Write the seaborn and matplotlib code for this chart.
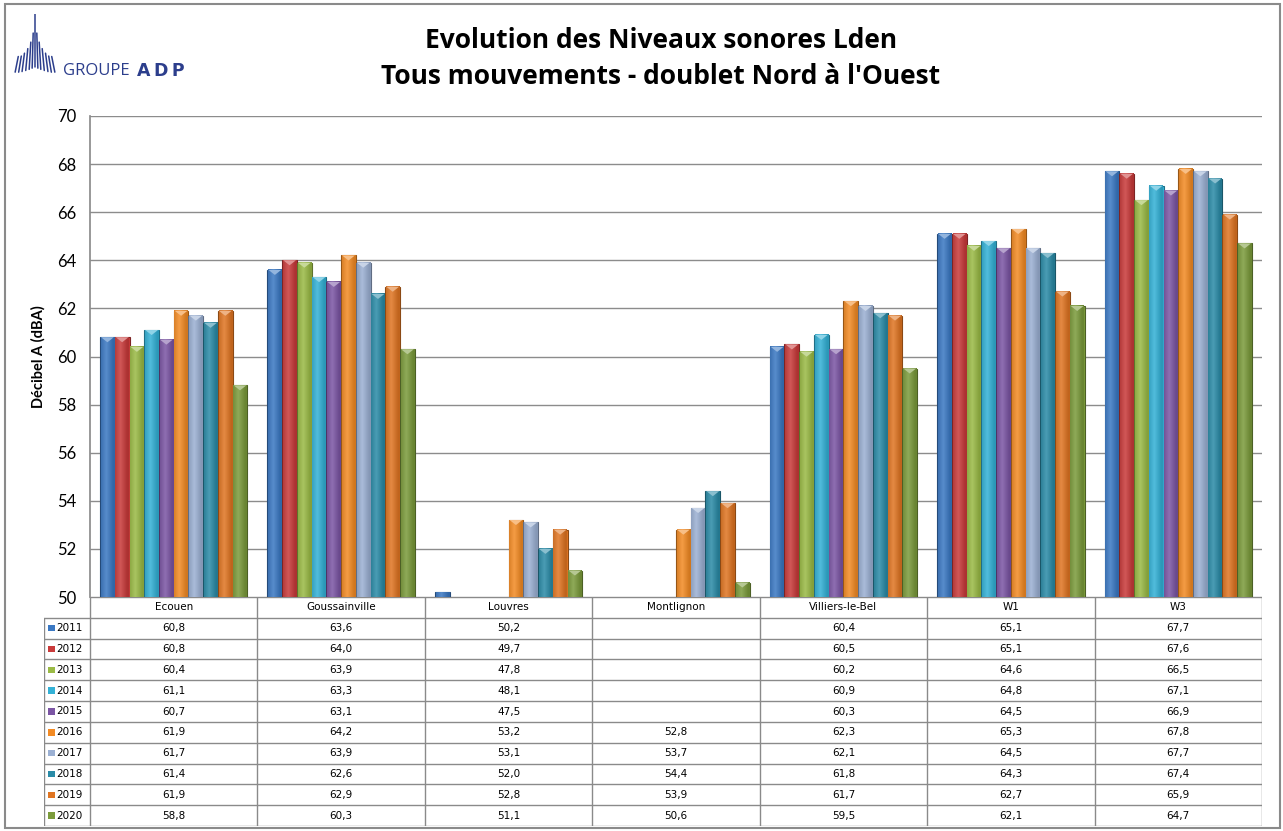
import matplotlib
matplotlib.use("Agg")
import matplotlib.pyplot as plt
from matplotlib.colors import to_rgb
from matplotlib.patches import Rectangle, Polygon
import numpy as np
import pandas as pd
import seaborn as sns

# data
sites = ["Ecouen", "Goussainville", "Louvres", "Montlignon", "Villiers-le-Bel", "W1", "W3"]
years = ["2011", "2012", "2013", "2014", "2015", "2016", "2017", "2018", "2019", "2020"]
nan = np.nan
v2011 = [60.8, 63.6, 50.2, nan, 60.4, 65.1, 67.7]
v2012 = [60.8, 64.0, 49.7, nan, 60.5, 65.1, 67.6]
v2013 = [60.4, 63.9, 47.8, nan, 60.2, 64.6, 66.5]
v2014 = [61.1, 63.3, 48.1, nan, 60.9, 64.8, 67.1]
v2015 = [60.7, 63.1, 47.5, nan, 60.3, 64.5, 66.9]
v2016 = [61.9, 64.2, 53.2, 52.8, 62.3, 65.3, 67.8]
v2017 = [61.7, 63.9, 53.1, 53.7, 62.1, 64.5, 67.7]
v2018 = [61.4, 62.6, 52.0, 54.4, 61.8, 64.3, 67.4]
v2019 = [61.9, 62.9, 52.8, 53.9, 61.7, 62.7, 65.9]
v2020 = [58.8, 60.3, 51.1, 50.6, 59.5, 62.1, 64.7]
values = [v2011, v2012, v2013, v2014, v2015, v2016, v2017, v2018, v2019, v2020]

colors = ["#3a78c3", "#c93a3a", "#9aba45", "#33b1d6", "#7b55a4",
          "#f38b24", "#9bb0d3", "#2a8ba7", "#e07522", "#7b9b3b"]

rows = []
for y, vals in zip(years, values):
    for s, v in zip(sites, vals):
        rows.append({"site": s, "year": y, "dB": v})
df = pd.DataFrame(rows)

sns.set_theme(style="white")
plt.rcParams["font.family"] = ["Lato", "DejaVu Sans"]
plt.rcParams["text.color"] = "black"
plt.rcParams["ytick.color"] = "black"
plt.rcParams["axes.labelcolor"] = "black"

fig = plt.figure(figsize=(12.83, 8.31), dpi=100)
W, H = 1283, 831

# outer frame
fig.patches.append(Rectangle((5 / W, 3 / H), 1 - 8 / W, 1 - 7 / H, transform=fig.transFigure,
                             fill=False, edgecolor="#8a8a8a", lw=1.5))

ax_h_px = 597 - 116
ax = fig.add_axes([90 / W, 1 - 597 / H, (1262 - 90) / W, ax_h_px / H])
sns.barplot(data=df, x="site", y="dB", hue="year", order=sites, hue_order=years,
            palette=colors, width=0.88, errorbar=None, legend=False, ax=ax,
            saturation=1)

ymin, ymax = 50, 70
ax.set_ylim(ymin, ymax)
ax.set_xlim(-0.5, len(sites) - 0.5)
ax.set_yticks(range(50, 71, 2))
ax.tick_params(axis="y", labelsize=12, length=0, pad=10)
ax.set_xticks([])
ax.set_xlabel("")
ax.set_ylabel("Décibel A (dBA)", fontsize=10.5, fontweight="bold", labelpad=8)
ax.grid(axis="y", color="#8c8c8c", lw=1)
ax.set_axisbelow(True)
for side in ["top", "right", "bottom"]:
    ax.spines[side].set_visible(False)
ax.spines["left"].set_color("#8c8c8c")

# give the bars a cylinder-like shading and a bevelled top
n_px = 64
prof = np.linspace(0, 1, n_px)
light = np.clip(1 - np.abs(prof - 0.38) * 2.0, 0, 1)
bevel = (ymax - ymin) / ax_h_px * 5
for patch in ax.patches:
    h = patch.get_height()
    if not np.isfinite(h) or h == 0:
        continue
    base = np.array(to_rgb(patch.get_facecolor()))
    patch.set_edgecolor(tuple(base * 0.62))
    patch.set_linewidth(0.8)
    top = patch.get_y() + h
    if top <= ymin:
        continue
    img = np.zeros((1, n_px, 3))
    for k in range(n_px):
        t = light[k]
        c = base * (0.86 + 0.14 * t) + (1 - base) * 0.15 * t
        img[0, k] = np.clip(c, 0, 1)
    x0 = patch.get_x()
    w = patch.get_width()
    z = patch.get_zorder()
    ax.imshow(img, extent=[x0 + 0.004, x0 + w - 0.004, max(patch.get_y(), ymin), top],
              aspect="auto", zorder=z + 0.1, interpolation="bilinear")
    if top - ymin > bevel:
        tip = tuple(np.clip(base + (1 - base) * 0.45, 0, 1))
        ax.add_patch(Polygon([(x0 + 0.006, top), (x0 + w - 0.006, top), (x0 + w / 2, top - bevel)],
                             closed=True, facecolor=tip, edgecolor="none", zorder=z + 0.2))
ax.set_ylim(ymin, ymax)
ax.set_xlim(-0.5, len(sites) - 0.5)

# data table under the chart
tab = fig.add_axes([44 / W, 1 - 826 / H, (1262 - 44) / W, (826 - 597) / H])
lab_w = 46 / ((1262 - 90) / len(sites))
left = -0.5 - lab_w
tab.set_xlim(left, len(sites) - 0.5)
tab.set_ylim(len(years) + 1, 0)
tab.axis("off")
gc = "#8a8a8a"
tab.plot([-0.5, len(sites) - 0.5], [0, 0], color=gc, lw=1)
for r in range(1, len(years) + 2):
    tab.plot([left, len(sites) - 0.5], [r, r], color=gc, lw=1)
tab.plot([left, left], [1, len(years) + 1], color=gc, lw=1)
for c in range(len(sites) + 1):
    tab.plot([c - 0.5, c - 0.5], [0, len(years) + 1], color=gc, lw=1)
for c, s in enumerate(sites):
    tab.text(c, 0.5, s, ha="center", va="center", fontsize=7.5, family=["DejaVu Sans"])
for r, (y, vals, col) in enumerate(zip(years, values, colors)):
    yy = r + 1.5
    tab.scatter([left + 0.045], [yy], marker="s", s=22, color=col, edgecolor="none")
    tab.text(left + 0.075, yy, y, ha="left", va="center", fontsize=7.5, family=["DejaVu Sans"])
    for c, v in enumerate(vals):
        if np.isfinite(v):
            tab.text(c, yy, f"{v:.1f}".replace(".", ","), ha="center", va="center",
                     fontsize=7.5, family=["DejaVu Sans"])

# title
fig.text(0.515, 1 - 40 / H, "Evolution des Niveaux sonores Lden", ha="center", va="center",
         fontsize=19, fontweight="bold", color="black", family=["Open Sans", "DejaVu Sans"])
fig.text(0.515, 1 - 76 / H, "Tous mouvements - doublet Nord à l'Ouest", ha="center", va="center",
         fontsize=19, fontweight="bold", color="black", family=["Open Sans", "DejaVu Sans"])

# logo
navy = "#2c3e8c"
fig.text(63 / W, 1 - 71 / H, "GROUPE", ha="left", va="center", fontsize=12,
         color=navy, family=["Open Sans", "DejaVu Sans"])
fig.text(137 / W, 1 - 71 / H, "A\u2009D\u2009P", ha="left", va="center", fontsize=12.5,
         fontweight="bold", color=navy, family=["DejaVu Sans"])
logo = fig.add_axes([14 / W, 1 - 78 / H, 42 / W, 64 / H])
logo.set_xlim(-1, 1)
logo.set_ylim(0, 1)
logo.axis("off")
ray_ang = np.deg2rad([-25, -21, -17, -12.5, -8, -4, 0, 4, 8, 12.5, 17, 21, 25])
ray_in = [1.45, 1.4, 1.32, 1.22, 1.1, 0.95, 0.0, 0.95, 1.1, 1.22, 1.32, 1.4, 1.45]
ray_out = [1.72, 1.67, 1.62, 1.57, 1.53, 1.5, 1.48, 1.5, 1.53, 1.57, 1.62, 1.67, 1.72]
for a, r0, r1 in zip(ray_ang, ray_in, ray_out):
    xs = [np.sin(a) * r0 * 1.3, np.sin(a) * r1 * 1.3]
    ys = [1.65 - np.cos(a) * r0, 1.65 - np.cos(a) * r1]
    logo.plot(xs, ys, color=navy, lw=1.1)

fig.savefig("out.png", dpi=100)
